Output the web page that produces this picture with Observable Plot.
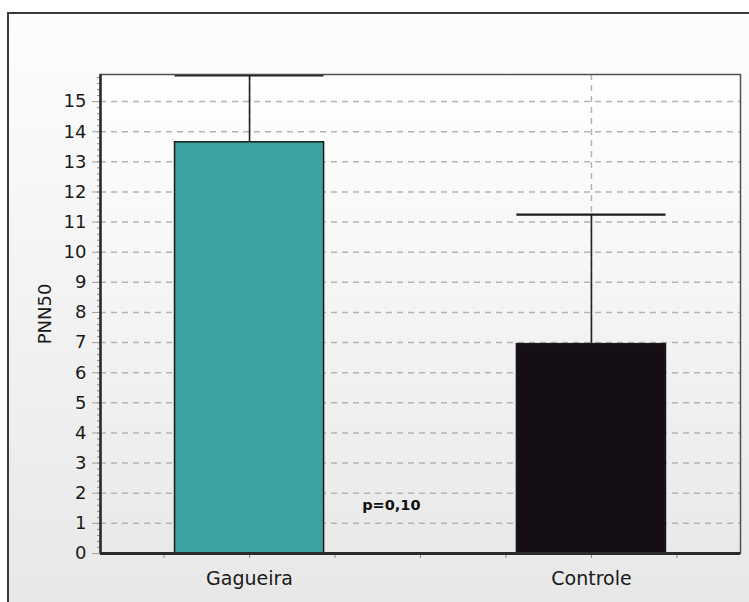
<!DOCTYPE html>
<html>
<head>
<meta charset="utf-8">
<script src="https://cdn.jsdelivr.net/npm/d3@7"></script>
<script src="https://cdn.jsdelivr.net/npm/@observablehq/plot@0.6"></script>
<style>
  html, body { margin: 0; padding: 0; background: #ffffff; }
  #wrap { position: relative; width: 749px; height: 602px; overflow: hidden; }
  #panel {
    position: absolute; left: 7px; top: 12px; width: 780px; height: 620px;
    border: 2px solid #3a3a3a; box-sizing: border-box;
    background: linear-gradient(#fdfdfd, #e7e7e7);
  }
  #chart { position: absolute; left: 0; top: 0; }
</style>
</head>
<body>
<div id="wrap">
  <div id="panel"></div>
  <div id="chart"></div>
</div>
<script>
// Group means and standard deviations of PNN50
const categories = ["Gagueira", "Controle"];
const means = [13.65, 6.95];
const sds = [2.22, 4.3];
const barColors = ["#3aa39f", "#150f15"];
const pValueText = "p=0,10";

const yTicks = d3.range(0, 16);
const yMinor = d3.range(0, 15.9, 0.2);
const xTicks = d3.range(0.75, 2.26, 0.25);

const halfWidth = 0.218;
const rows = categories.map((c, i) => ({
  cat: c,
  pos: i + 1,
  mean: means[i],
  upper: means[i] + sds[i],
  color: barColors[i]
}));

const gridStyle = {stroke: "#b4b4b4", strokeOpacity: 1, strokeWidth: 1.5, strokeDasharray: "6,5"};

const chart = Plot.plot({
  width: 749,
  height: 602,
  marginLeft: 100,
  marginRight: 9,
  marginTop: 74,
  marginBottom: 49,
  style: {fontFamily: "DejaVu Sans, Verdana, sans-serif", fontSize: "18px", background: "transparent", color: "#1e1e1e"},
  x: {type: "linear", domain: [0.564, 2.436]},
  y: {domain: [0, 15.9]},
  marks: [
    Plot.frame({fill: "url(#plotBg)", stroke: null}),
    Plot.gridY(yTicks.slice(1), gridStyle),
    Plot.gridX([1, 2], gridStyle),
    Plot.axisY(yMinor, {tickSize: 3, text: null, stroke: "#8a8a8a", label: null}),
    Plot.axisY(yTicks, {
      tickSize: 8, tickPadding: 6, stroke: "#a0a0a0", fill: "#1a1a1a", fontSize: 18,
      label: "PNN50", labelAnchor: "center", labelOffset: 62, labelArrow: "none"
    }),
    Plot.axisX(xTicks, {
      tickSize: 5, tickPadding: 13, stroke: "#8a8a8a", fill: "#1a1a1a", fontSize: 19,
      tickFormat: d => Number.isInteger(d) ? categories[d - 1] : "", label: null
    }),
    Plot.rectY(rows, {
      x1: d => d.pos - halfWidth, x2: d => d.pos + halfWidth,
      y1: 0, y2: "mean", fill: "color", stroke: "#1a1a1a", strokeWidth: 1.5
    }),
    Plot.ruleX(rows, {x: "pos", y1: "mean", y2: "upper", stroke: "#222", strokeWidth: 1.6}),
    Plot.ruleY(rows, {
      y: "upper", x1: d => d.pos - halfWidth, x2: d => d.pos + halfWidth,
      stroke: "#1a1a1a", strokeWidth: 2.2
    }),
    Plot.frame({stroke: "#505050", strokeWidth: 1.5}),
    Plot.ruleY([0], {stroke: "#2a2a2a", strokeWidth: 3}),
    Plot.ruleX([0.564], {stroke: "#2a2a2a", strokeWidth: 2.5}),
    Plot.text([pValueText], {
      x: 1.5, y: 1.6, text: d => d, textAnchor: "end",
      fontWeight: "bold", fontSize: 14.5, fill: "#111"
    })
  ]
});

// Vertical gradient for the plotting area
const defs = d3.select(chart).insert("defs", ":first-child");
const grad = defs.append("linearGradient")
  .attr("id", "plotBg").attr("x1", 0).attr("y1", 0).attr("x2", 0).attr("y2", 1);
grad.append("stop").attr("offset", "0%").attr("stop-color", "#ffffff");
grad.append("stop").attr("offset", "100%").attr("stop-color", "#e9e9e9");

document.getElementById("chart").appendChild(chart);
</script>
</body>
</html>
